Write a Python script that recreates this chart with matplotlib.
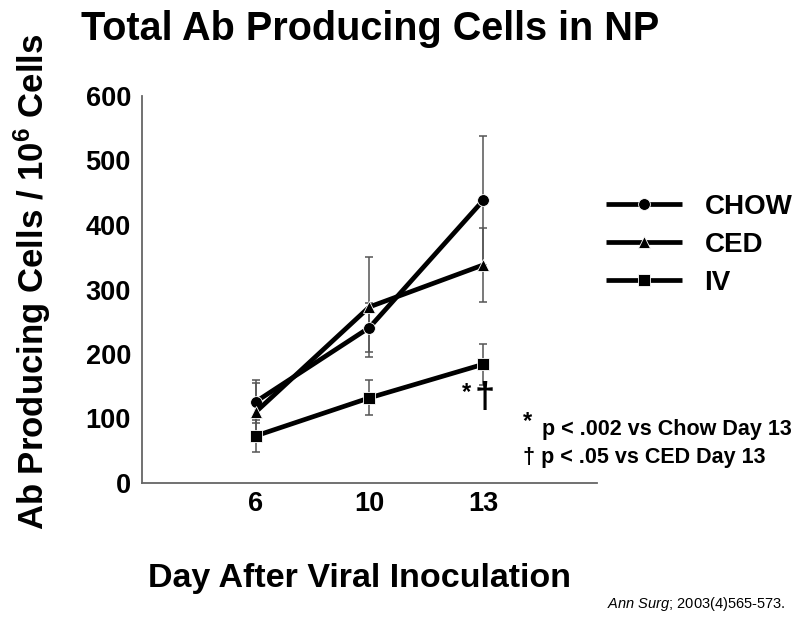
import matplotlib
matplotlib.use("Agg")
import matplotlib.pyplot as plt
import numpy as np

plt.rcParams['font.family'] = ['Liberation Sans', 'DejaVu Sans']
plt.rcParams['mathtext.fontset'] = 'custom'
plt.rcParams['mathtext.rm'] = 'Liberation Sans:bold'
plt.rcParams['mathtext.bf'] = 'Liberation Sans:bold'
plt.rcParams['mathtext.it'] = 'Liberation Sans:italic'

days = ['6', '10', '13']
series_names = ['CHOW', 'CED', 'IV']
chow = [126, 241, 438]
chow_err = [33, 38, 100]
ced = [110, 273, 338]
ced_err = [45, 77, 58]
iv = [73, 132, 184]
iv_err = [25, 27, 32]
yticks = [0, 100, 200, 300, 400, 500, 600]

fig = plt.figure(figsize=(8, 6.21), dpi=100)
ax = fig.add_axes([0.1775, 1 - 483 / 621, 0.746 - 0.1775, (483 - 96) / 621])

x = np.arange(len(days))
markers = ['o', '^', 's']
msizes = [8.5, 8.5, 9]
for vals, errs, m, ms, name in zip([chow, ced, iv], [chow_err, ced_err, iv_err],
                                   markers, msizes, series_names):
    ax.errorbar(x, vals, yerr=errs, fmt='none', ecolor='#555555', elinewidth=1.1,
                capsize=3, capthick=1.1, zorder=2)
    ax.plot(x, vals, color='black', lw=3.4, marker=m, markersize=ms,
            markerfacecolor='black', markeredgecolor='white', markeredgewidth=0.6,
            label=name, zorder=3, solid_capstyle='butt')

ax.set_xlim(-1, 3)
ax.set_ylim(0, 600)
ax.set_xticks(x)
ax.set_xticklabels(days)
ax.set_yticks(yticks)
ax.set_yticklabels([str(v) for v in yticks])
for s in ['top', 'right']:
    ax.spines[s].set_visible(False)
for s in ['left', 'bottom']:
    ax.spines[s].set_color('#666666')
    ax.spines[s].set_linewidth(1.3)
ax.tick_params(axis='both', length=0, labelsize=19.5)
ax.tick_params(axis='y', pad=8)
ax.tick_params(axis='x', pad=6)
for lab in ax.get_xticklabels() + ax.get_yticklabels():
    lab.set_fontweight('bold')

fig.text(0.4625, 0.953, 'Total Ab Producing Cells in NP', ha='center', va='center',
         fontsize=28.5, fontweight='bold')
fig.text(0.04, 0.546, r'Ab Producing Cells / 10$^{6}$ Cells', ha='center', va='center',
         rotation=90, fontsize=25, fontweight='bold')
fig.text(0.45, 0.069, 'Day After Viral Inoculation', ha='center', va='center',
         fontsize=24.5, fontweight='bold')

leg = fig.legend(loc='upper left', bbox_to_anchor=(0.7575, 0.688), frameon=False,
                 fontsize=20, handlelength=2.75, handletextpad=0.8, labelspacing=0.44,
                 borderpad=0, borderaxespad=0)
for t in leg.get_texts():
    t.set_fontweight('bold')

fig.text(467 / 800, 1 - 393 / 621, '*', ha='center', va='center', fontsize=17, fontweight='bold')
fig.text(485 / 800, 1 - 399 / 621, '\u2020', ha='center', va='center', fontsize=26, fontweight='bold')

fig.text(523 / 800, 1 - 422 / 621, '*', ha='left', va='center', fontsize=17, fontweight='bold')
fig.text(542 / 800, 1 - 430 / 621, 'p < .002 vs Chow Day 13', ha='left', va='center',
         fontsize=15.5, fontweight='bold')
fig.text(523 / 800, 1 - 457 / 621, '\u2020 p < .05 vs CED Day 13', ha='left', va='center',
         fontsize=15.5, fontweight='bold')

fig.text(607 / 800, 1 - 604 / 621, r'$\it{Ann\ Surg}$; 2003(4)565-573.', ha='left',
         va='center', fontsize=10.5)

fig.savefig('out.png', dpi=100)
